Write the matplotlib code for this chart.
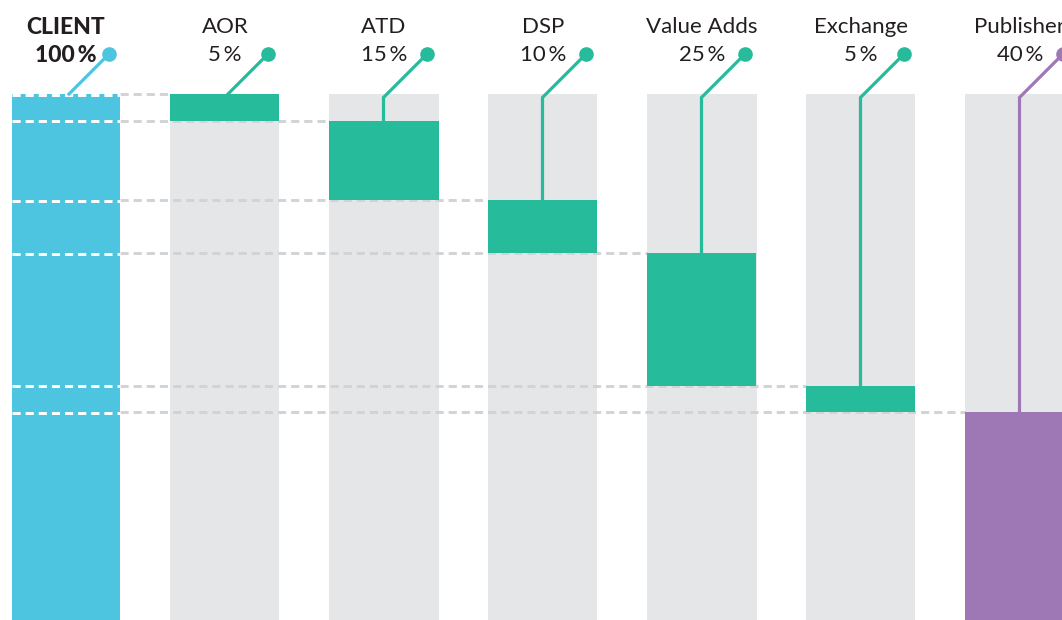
import numpy as np
import matplotlib
matplotlib.use("Agg")
import matplotlib.pyplot as plt

# stages of the spend, share of client budget (%)
names = ["CLIENT", "AOR", "ATD", "DSP", "Value Adds", "Exchange", "Publisher"]
shares = [100, 5, 15, 10, 25, 5, 40]
pct_labels = ["100\u2009%", "5\u2009%", "15\u2009%", "10\u2009%", "25\u2009%", "5\u2009%", "40\u2009%"]

BLUE = "#4DC5E0"
GREEN = "#26BB9B"
PURPLE = "#9E78B5"
GRAY = "#E5E6E8"
DASH = "#D2D3D5"
TEXT = "#231F20"
colors = [BLUE] + [GREEN] * 5 + [PURPLE]

# start of each coloured segment (client covers all, others stack cumulatively)
starts = [0] + [sum(shares[1:i]) for i in range(1, len(shares))]

W, H = 1062, 620
fig = plt.figure(figsize=(W / 100, H / 100), dpi=100)
ax = fig.add_axes([0, 0, 1, 1])
ax.axis("off")

step = 159.0     # px between bar centres
ypx = 5.3        # px per percent
x0 = 66.0        # px centre of first bar
y0 = 94.0        # px of 0 %
ax.set_xlim(-x0 / step, (W - x0) / step)
ax.set_ylim((H - y0) / ypx, -y0 / ypx)

bw = 109 / step
n = len(names)
x = np.arange(n)

# grey full-height backgrounds
ax.bar(x[1:], 100, bottom=0, width=bw, color=GRAY, zorder=1)

# dashed guide lines from client to the bar starting at that level
for i in range(1, n):
    yv = starts[i]
    ax.plot([x[0] + bw / 2, x[i] - bw / 2], [yv, yv], color=DASH, lw=2.1,
            dashes=(2.8, 1.7), zorder=2)

# coloured segments
for i in range(n):
    ax.bar(x[i], shares[i], bottom=starts[i], width=bw, color=colors[i], zorder=3)

# white dashes inside the client bar
for i in range(1, n):
    ax.plot([x[0] - bw / 2, x[0] + bw / 2], [starts[i] + 0.15, starts[i] + 0.15],
            color="white", lw=2.1, dashes=(2.8, 1.7), zorder=4)

# labels and leader lines
dot_dx = 43 / step
dot_y = (54 - y0) / ypx
elbow_px = 97.5
for i in range(n):
    bold = i == 0
    fs = 16.5 if bold else 16
    ax.text(x[i], (27 - y0) / ypx, names[i], ha="center", va="center",
            fontsize=fs, color=TEXT, family=["Lato", "DejaVu Sans"],
            fontweight="black" if bold else "normal", zorder=6)
    ax.text(x[i], (55 - y0) / ypx, pct_labels[i], ha="center", va="center",
            fontsize=fs, color=TEXT, family=["Lato", "DejaVu Sans"],
            fontweight="black" if bold else "normal", zorder=6)
    # diagonal at 45 degrees in pixel space, then straight down
    top_px = y0 + starts[i] * ypx
    end_px = min(elbow_px, top_px)
    drop = end_px - 54
    ex = x[i] + (43 - drop) / step
    ey = (end_px - y0) / ypx
    xs = [x[i] + dot_dx, ex]
    ys = [dot_y, ey]
    if top_px > elbow_px:
        xs.append(ex)
        ys.append(starts[i])
    ax.plot(xs, ys, color=colors[i], lw=2.3, zorder=5, solid_joinstyle="miter")
    ax.plot(x[i] + dot_dx, dot_y, "o", color=colors[i], ms=9.5, zorder=5)

fig.savefig("out.png", dpi=100)
